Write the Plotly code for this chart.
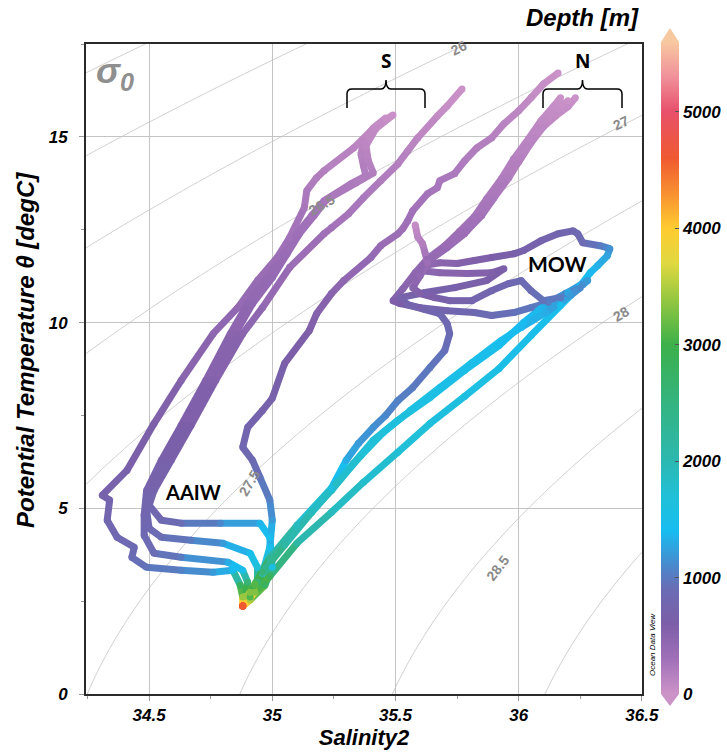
import numpy as np
import plotly.graph_objects as go

# ---------------- data ----------------
# Southern profiles
s1_sal = [35.49,35.44,35.40,35.33,35.21,35.18,35.14,35.13,35.07,35.02,34.94,34.86,34.76,34.63,34.52,34.41,34.31,34.34,34.33,34.37,34.44,34.43,34.49,34.63,34.76,34.84,34.87,34.88,34.88]
s1_temp = [15.59,15.35,15.16,14.70,14.09,13.90,13.55,13.09,12.28,11.75,11.13,10.40,9.70,8.44,7.28,6.02,5.35,5.22,4.68,4.22,3.95,3.68,3.41,3.33,3.28,3.33,2.93,2.61,2.37]
s1_depth = [20,60,90,130,170,190,220,250,290,330,370,410,450,520,580,650,700,720,770,820,860,900,950,1050,1200,1400,2800,3400,4600]

s2_sal = [35.46,35.41,35.37,35.36,35.37,35.38,35.32,35.21,35.16,35.10,35.05,34.98,34.90,34.83,34.73,34.63,34.55,34.49,34.48,34.48,34.52,34.63,34.82,34.88,34.90,34.89,34.88]
s2_temp = [15.51,15.24,14.89,14.54,14.22,13.95,13.74,13.28,12.88,12.39,11.85,11.21,10.51,9.70,8.44,7.23,6.29,5.48,4.81,4.27,3.79,3.68,3.55,3.33,3.01,2.63,2.37]
s2_depth = [30,70,110,150,180,200,220,250,280,320,360,400,440,480,540,600,660,720,780,840,900,1000,1300,1500,2600,3400,4600]

s3_sal = [35.48,35.42,35.38,35.39,35.41,35.34,35.22,35.17,35.11,35.06,35.00,34.92,34.85,34.75,34.65,34.57,34.51,34.49,34.50,34.55,34.67,34.80,34.91,34.94,34.94,34.91,34.88]
s3_temp = [15.54,15.22,14.76,14.35,14.03,13.76,13.31,12.88,12.39,11.85,11.21,10.51,9.70,8.44,7.23,6.29,5.48,4.95,4.46,4.22,4.14,4.06,3.79,3.41,3.01,2.58,2.37]
s3_depth = [25,65,110,150,180,200,240,280,320,360,400,440,480,540,600,660,720,780,840,900,1000,1200,1450,1700,2600,3400,4600]

s4_sal = [35.77,35.71,35.67,35.59,35.55,35.51,35.44,35.37,35.31,35.24,35.21,35.07,34.96,34.88,34.77,34.67,34.59,34.52,34.50,34.55,34.63,34.79,34.95,34.99,35.00,34.97,34.91,34.88]
s4_temp = [16.29,15.83,15.56,14.97,14.62,14.27,13.82,13.36,12.93,12.55,12.39,11.48,10.40,9.70,8.44,7.23,6.29,5.48,5.08,4.68,4.60,4.60,4.60,4.22,3.41,2.93,2.53,2.37]
s4_depth = [10,40,70,110,140,170,200,230,260,290,300,360,430,480,540,600,660,720,770,830,900,1100,1350,1450,1600,2800,3500,4600]

s5_sal = [36.16,36.10,36.05,36.00,35.94,35.89,35.83,35.78,35.74,35.68,35.67,35.63,35.57,35.55,35.53,35.51,35.44,35.40,35.29,35.24,35.18,35.15,35.05,35.00,34.96,34.90,34.88,34.92,34.95,34.99,35.00,34.99,34.96,34.91,34.88]
s5_temp = [16.72,16.42,16.05,15.70,15.35,14.97,14.70,14.35,14.01,13.82,13.63,13.47,13.01,12.74,12.53,12.39,12.07,11.75,11.13,10.78,10.24,9.78,8.90,7.96,7.63,7.18,6.64,6.29,5.83,5.22,4.68,3.95,3.25,2.61,2.37]
s5_depth = [10,40,70,100,130,160,180,200,220,240,250,270,290,310,320,330,370,400,450,490,530,560,620,680,700,740,800,850,950,1050,1200,1450,1800,3100,4600]

# Northern profiles
n1_sal = [36.23,36.20,36.15,36.10,36.05,36.00,35.94,35.89,35.83,35.78,35.71,35.64,35.61,35.68,35.75,35.82,35.89,35.98,36.02,36.09,36.16,36.22,36.24,36.26,36.33,36.37,36.36,36.32,36.29,36.25,36.17,36.05,35.92,35.78,35.64,35.51,35.37,35.24,35.10,34.99,34.93,34.88]
n1_temp = [16.05,15.81,15.56,15.27,14.84,14.33,13.79,13.28,12.80,12.39,12.02,11.69,11.53,11.61,11.59,11.67,11.75,11.85,11.94,12.20,12.39,12.47,12.39,12.15,12.07,11.99,11.80,11.53,11.34,10.99,10.46,9.65,8.76,8.01,7.28,6.51,5.70,4.89,4.06,3.17,2.74,2.37]
n1_depth = [10,40,70,100,140,180,220,260,300,340,380,420,440,480,520,560,600,650,680,720,760,800,830,870,1000,1150,1250,1330,1380,1420,1460,1500,1550,1600,1660,1720,1800,1900,2150,2800,3300,4600]

n2_sal = [36.17,36.14,36.09,36.04,35.98,35.93,35.87,35.82,35.76,35.70,35.63,35.58,35.53,35.49,35.52,35.60,35.71,35.82,35.89,35.98,36.05,36.12,36.19,36.26,36.28,36.20,36.09,36.02,35.92,35.78,35.64,35.51,35.41,35.33,35.24,35.10,34.99,34.93,34.88]
n2_temp = [16.05,15.81,15.43,14.95,14.41,13.87,13.33,12.85,12.45,12.07,11.72,11.34,10.91,10.59,10.51,10.40,10.32,10.27,10.19,10.27,10.40,10.54,10.78,11.02,11.13,10.81,10.38,10.00,9.38,8.71,7.98,7.37,6.83,6.21,5.48,4.49,3.60,2.93,2.37]
n2_depth = [10,40,80,120,160,200,240,280,320,360,400,450,500,560,600,680,760,830,890,940,980,1020,1080,1150,1200,1280,1350,1400,1450,1520,1580,1640,1700,1760,1830,1950,2300,3100,4600]

n3_sal = [36.20,36.16,36.11,36.06,36.01,35.96,35.90,35.85,35.79,35.72,35.65,35.60,35.68,35.79,35.89,35.94,35.87,35.74,35.62,35.52,35.55,35.62,35.68,35.71,35.72,35.70,35.64,35.57,35.51,35.46,35.41,35.35,35.30,35.24,35.10,34.99,34.93,34.88]
n3_temp = [15.97,15.75,15.43,14.97,14.44,13.90,13.36,12.88,12.47,12.10,11.75,11.40,11.34,11.32,11.34,11.45,11.13,10.94,10.81,10.67,10.48,10.35,10.24,9.97,9.70,9.25,8.79,8.25,7.90,7.50,7.18,6.75,6.29,5.54,4.54,3.66,2.96,2.37]
n3_depth = [10,40,80,120,160,200,240,280,320,360,400,450,480,520,560,590,620,650,680,700,720,760,800,840,880,930,980,1000,1050,1100,1150,1200,1300,1600,1900,2300,3100,4600]

n4_sal = [35.58,35.59,35.61,35.62,35.63,35.60,35.57,35.60,35.66,35.72,35.81,35.89,35.96,36.01,36.05,36.10,36.17,36.25,36.21,36.11,36.01,35.93,35.81,35.68,35.56,35.45,35.36,35.28,35.16,35.05,34.96,34.91,34.88]
n4_temp = [12.63,12.31,12.12,11.88,11.61,11.26,10.94,10.78,10.67,10.59,10.59,10.86,11.05,11.13,10.86,10.59,10.67,10.94,10.73,10.27,9.87,9.52,8.92,8.25,7.63,7.04,6.42,5.81,4.89,4.01,3.28,2.74,2.37]
n4_depth = [60,120,180,250,330,420,500,560,620,680,730,780,820,860,900,950,1000,1100,1200,1300,1380,1430,1490,1550,1610,1670,1730,1790,1900,2150,2600,3300,4600]

profiles = [
    (s1_sal, s1_temp, s1_depth), (s2_sal, s2_temp, s2_depth), (s3_sal, s3_temp, s3_depth),
    (s4_sal, s4_temp, s4_depth), (s5_sal, s5_temp, s5_depth),
    (n1_sal, n1_temp, n1_depth), (n2_sal, n2_temp, n2_depth), (n3_sal, n3_temp, n3_depth),
    (n4_sal, n4_temp, n4_depth),
]

depth_ticks = [0, 1000, 2000, 3000, 4000, 5000]
x_ticks = [34.5, 35, 35.5, 36, 36.5]
y_ticks = [0, 5, 10, 15]
sigma_levels = (24.0, 29.5, 0.5)

# contour label annotations: (label, S, T, angle)
iso_labels = [("26", 35.756, 17.39, -27), ("26.5", 35.199, 13.17, -30), ("27", 36.415, 15.38, -25),
              ("27.5", 34.907, 5.67, -60), ("28", 36.415, 10.24, -30), ("28.5", 35.915, 3.39, -52)]

# ---------------- styling ----------------
CMAX = 5600.0
stops_d = [0, 300, 600, 900, 1100, 1400, 1700, 2000, 2500, 3000, 3400, 3700, 4000, 4300, 4600, 5000, 5300, 5600]
stops_c = ['#cc93c8', '#a070b8', '#7c5ea8', '#6a6cb4', '#4a88cc', '#18bdf0', '#20c0d8', '#2cb8b0',
           '#34b480', '#3cb04a', '#98c840', '#e0d840', '#ffcc30', '#f89030', '#f05a30', '#e8506a',
           '#f0909a', '#f8c8a0']
colorscale = [[d / CMAX, c] for d, c in zip(stops_d, stops_c)]


def hex2rgb(h):
    h = h.lstrip('#')
    return [int(h[i:i + 2], 16) for i in (0, 2, 4)]


def depth_color(d):
    d = max(0, min(CMAX, d))
    for i in range(len(stops_d) - 1):
        if stops_d[i] <= d <= stops_d[i + 1]:
            f = (d - stops_d[i]) / (stops_d[i + 1] - stops_d[i])
            a, b = hex2rgb(stops_c[i]), hex2rgb(stops_c[i + 1])
            r = [round(a[k] + f * (b[k] - a[k])) for k in range(3)]
            return f"rgb({r[0]},{r[1]},{r[2]})"
    return stops_c[-1]


def sigma0(S, T):
    rw = (999.842594 + 6.793952e-2 * T - 9.095290e-3 * T ** 2 + 1.001685e-4 * T ** 3
          - 1.120083e-6 * T ** 4 + 6.536332e-9 * T ** 5)
    A = 0.824493 - 4.0899e-3 * T + 7.6438e-5 * T ** 2 - 8.2467e-7 * T ** 3 + 5.3875e-9 * T ** 4
    B = -5.72466e-3 + 1.0227e-4 * T - 1.6546e-6 * T ** 2
    C = 4.8314e-4
    return rw + A * S + B * S ** 1.5 + C * S ** 2 - 1000.0


FONT = "Liberation Sans, Arial, sans-serif"
BI = dict(family=FONT, weight="bold", style="italic", color="black")

fig = go.Figure()

# isopycnals
sg = np.linspace(34.0, 36.8, 141)
tg = np.linspace(-1.0, 19.0, 201)
SS, TT = np.meshgrid(sg, tg)
fig.add_trace(go.Contour(
    x=sg, y=tg, z=sigma0(SS, TT),
    contours=dict(start=sigma_levels[0], end=sigma_levels[1], size=sigma_levels[2], coloring="none"),
    line=dict(color="#c2c2c2", width=0.8), showscale=False, hoverinfo="skip"))

# profiles: segments coloured by depth
for sal, temp, dep in profiles:
    assert len(sal) == len(temp) == len(dep)
    for i in range(len(sal) - 1):
        fig.add_trace(go.Scatter(
            x=[sal[i], sal[i + 1]], y=[temp[i], temp[i + 1]], mode="lines",
            line=dict(color=depth_color(0.5 * (dep[i] + dep[i + 1])), width=7),
            showlegend=False, hoverinfo="skip"))

for k, (sal, temp, dep) in enumerate(profiles):
    fig.add_trace(go.Scatter(
        x=sal, y=temp, mode="markers",
        marker=dict(size=7, color=dep, colorscale=colorscale, cmin=0, cmax=CMAX,
                    line=dict(width=0), showscale=(k == 0),
                    colorbar=dict(
                        x=(661 - 86) / 556, xanchor="left", xpad=0, y=0, yanchor="bottom", ypad=0,
                        lenmode="pixels", len=652, thickness=18, thicknessmode="pixels",
                        outlinewidth=0, tickvals=depth_ticks, ticks="inside", ticklen=4,
                        tickcolor="#555", tickfont=dict(size=17, **BI))),
        showlegend=False, hoverinfo="skip"))


# ---------------- layout helpers ----------------
def px(xp):
    return (xp - 86) / 556


def py(yp):
    return (694 - yp) / 650


def brace(xl, xr, ytip=80, ybar=89, yarm=108, r=5):
    xc = 0.5 * (xl + xr)
    pts = (f"M {px(xl)},{py(yarm)} L {px(xl)},{py(ybar + r)} "
           f"Q {px(xl)},{py(ybar)} {px(xl + r)},{py(ybar)} L {px(xc - r)},{py(ybar)} "
           f"Q {px(xc)},{py(ybar)} {px(xc)},{py(ytip)} Q {px(xc)},{py(ybar)} {px(xc + r)},{py(ybar)} "
           f"L {px(xr - r)},{py(ybar)} Q {px(xr)},{py(ybar)} {px(xr)},{py(ybar + r)} L {px(xr)},{py(yarm)}")
    return dict(type="path", path=pts, xref="paper", yref="paper",
                line=dict(color="black", width=1.5))


shapes = [brace(347, 425), brace(543, 622),
          dict(type="path", xref="paper", yref="paper",
               path=f"M {px(661)},{py(42)} L {px(679)},{py(42)} L {px(670)},{py(28)} Z",
               fillcolor="#f8c8a0", line=dict(width=0)),
          dict(type="path", xref="paper", yref="paper",
               path=f"M {px(661)},{py(694)} L {px(679)},{py(694)} L {px(670)},{py(706)} Z",
               fillcolor="#cc93c8", line=dict(width=0))]

C = dict(xanchor="center", yanchor="middle", showarrow=False)
annotations = []
for lab, s, t, ang in iso_labels:
    annotations.append(dict(x=s, y=t, xref="x", yref="y", text=lab, textangle=ang,
                            font=dict(family=FONT, size=14, color="#8a8a8a", weight="bold"), **C))
annotations += [
    dict(x=px(94), y=py(73), xref="paper", yref="paper", xanchor="left", yanchor="middle",
         text="σ<sub>0</sub>", showarrow=False, font=dict(family=FONT, size=36, color="#8f8f8f",
                                                          weight="bold", style="italic")),
    dict(x=px(386), y=py(61), xref="paper", yref="paper", text="S",
         font=dict(family="Open Sans", size=19, color="black", weight="bold"), **C),
    dict(x=px(582), y=py(61), xref="paper", yref="paper", text="N",
         font=dict(family="Open Sans", size=19, color="black", weight="bold"), **C),
    dict(x=36.159, y=11.59, xref="x", yref="y", text="MOW",
         font=dict(family="Lato", size=21, color="black", weight="bold"), **C),
    dict(x=34.679, y=5.43, xref="x", yref="y", text="AAIW",
         font=dict(family="Lato", size=20, color="black", weight="bold"), **C),
    dict(x=px(641), y=py(18), xref="paper", yref="paper", xanchor="right", yanchor="middle",
         text="Depth [m]", showarrow=False, font=dict(size=24, **BI)),
    dict(x=px(652), y=py(645), xref="paper", yref="paper", textangle=-90,
         text="Ocean Data View", font=dict(family=FONT, size=8, color="black", style="italic"), **C),
    dict(x=px(26), y=py(350), xref="paper", yref="paper", textangle=-90,
         text="Potential Temperature θ [degC]", font=dict(size=24, **BI), **C),
]

axis_common = dict(showgrid=True, gridcolor="#c4c4c4", gridwidth=1, zeroline=False,
                   showline=True, linecolor="#2a2a2a", linewidth=2, mirror=True,
                   ticks="outside", ticklen=5, tickcolor="#999",
                   tickfont=dict(size=17, **BI))

fig.update_layout(
    width=727, height=755, margin=dict(l=86, r=85, t=44, b=61, autoexpand=False),
    paper_bgcolor="white", plot_bgcolor="white", font=dict(family=FONT),
    showlegend=False, shapes=shapes, annotations=annotations,
    xaxis=dict(range=[34.244, 36.5005], tickvals=x_ticks, ticktext=["34.5", "35", "35.5", "36", "36.5"],
               minor=dict(dtick=0.25, tick0=34.25, ticks="outside", ticklen=3, tickcolor="#999", showgrid=False),
               title=dict(text="Salinity2", font=dict(size=22, **BI), standoff=4), **axis_common),
    yaxis=dict(range=[0, 17.5], tickvals=y_ticks,
               minor=dict(dtick=2.5, ticks="outside", ticklen=3, tickcolor="#999", showgrid=False),
               ticklabelstandoff=8, **axis_common),
)

fig.write_html("out.html")
